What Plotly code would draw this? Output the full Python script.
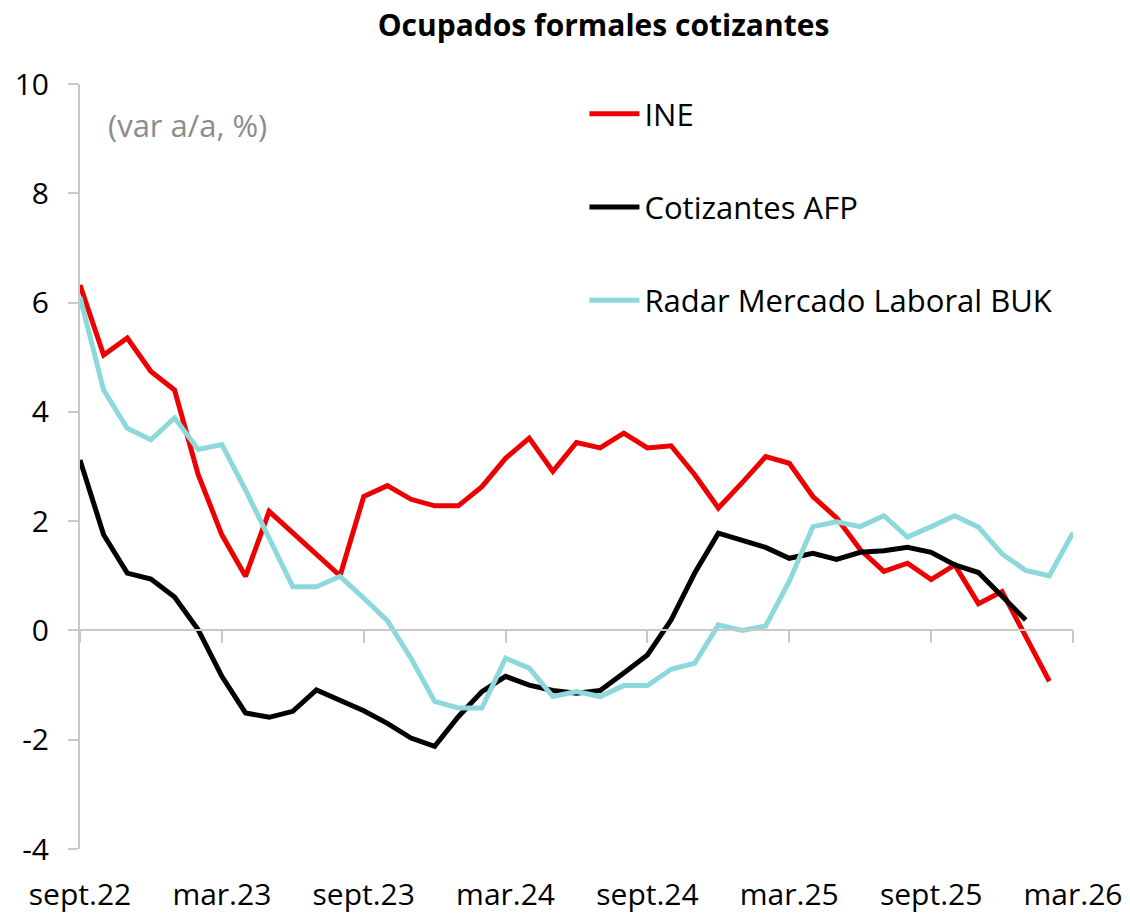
import plotly.graph_objects as go

# Monthly categories sept.22 .. mar.26
months = ["sept.22", "oct.22", "nov.22", "dic.22", "ene.23", "feb.23", "mar.23", "abr.23", "may.23", "jun.23",
          "jul.23", "ago.23", "sept.23", "oct.23", "nov.23", "dic.23", "ene.24", "feb.24", "mar.24", "abr.24",
          "may.24", "jun.24", "jul.24", "ago.24", "sept.24", "oct.24", "nov.24", "dic.24", "ene.25", "feb.25",
          "mar.25", "abr.25", "may.25", "jun.25", "jul.25", "ago.25", "sept.25", "oct.25", "nov.25", "dic.25",
          "ene.26", "feb.26", "mar.26"]

ine = [6.32, 5.04, 5.35, 4.74, 4.40, 2.85, 1.75, 0.99, 2.18, 1.78, 1.38, 1.00, 2.45, 2.65, 2.40, 2.28,
       2.28, 2.63, 3.15, 3.52, 2.91, 3.44, 3.34, 3.61, 3.34, 3.38, 2.85, 2.24, 2.70, 3.18, 3.06, 2.45,
       2.06, 1.48, 1.08, 1.23, 0.93, 1.20, 0.49, 0.71, -0.11, -0.93]

afp = [3.12, 1.75, 1.05, 0.94, 0.61, 0.01, -0.84, -1.51, -1.59, -1.48, -1.09, -1.28, -1.47, -1.70, -1.97,
       -2.12, -1.58, -1.12, -0.84, -1.00, -1.10, -1.15, -1.10, -0.78, -0.45, 0.19, 1.05, 1.78, 1.66, 1.52,
       1.32, 1.41, 1.30, 1.43, 1.46, 1.52, 1.43, 1.20, 1.06, 0.62, 0.19]

radar = [6.10, 4.40, 3.70, 3.49, 3.89, 3.31, 3.40, 2.57, 1.69, 0.80, 0.80, 0.99, 0.59, 0.18, -0.51, -1.30,
         -1.42, -1.42, -0.51, -0.69, -1.21, -1.12, -1.21, -1.01, -1.01, -0.71, -0.60, 0.10, 0.00, 0.08,
         0.90, 1.90, 1.99, 1.90, 2.10, 1.71, 1.90, 2.10, 1.89, 1.40, 1.10, 1.00, 1.79]

tick_labels = months[::6]
y_ticks = [-4, -2, 0, 2, 4, 6, 8, 10]
y_tick_text = [str(v) for v in y_ticks]

FONT = "Open Sans"
AXIS_GREY = "#C9C9C9"

fig = go.Figure()
fig.add_trace(go.Scatter(x=months[:len(ine)], y=ine, name="INE", mode="lines",
                         line=dict(color="#EC0000", width=5), legendgroup="a"))
fig.add_trace(go.Scatter(x=months[:len(afp)], y=afp, name="Cotizantes AFP", mode="lines",
                         line=dict(color="#000000", width=5), legendgroup="b"))
fig.add_trace(go.Scatter(x=months[:len(radar)], y=radar, name="Radar Mercado Laboral BUK", mode="lines",
                         line=dict(color="#8CD8DA", width=5), legendgroup="c"))
# invisible trace to carry the zero-line axis
fig.add_trace(go.Scatter(x=months, y=[None] * len(months), xaxis="x2", showlegend=False,
                         hoverinfo="skip", mode="lines"))

fig.update_layout(
    width=1130, height=915,
    margin=dict(l=72, r=65, t=76, b=74, autoexpand=False),
    paper_bgcolor="white", plot_bgcolor="white",
    font=dict(family=FONT, size=30, color="#000000"),
    title=dict(text="<b>Ocupados formales cotizantes</b>", x=0.527, xanchor="center",
               y=0.981, yanchor="middle", font=dict(family=FONT, size=30, color="#000000")),
    xaxis=dict(type="category", categoryorder="array", categoryarray=months,
               range=[0, len(months) - 1], tickmode="array", tickvals=tick_labels,
               ticktext=tick_labels, showline=False, ticks="", showgrid=False, zeroline=False,
               ticklabelstandoff=25, tickfont=dict(size=30), automargin=False),
    xaxis2=dict(type="category", categoryorder="array", categoryarray=months,
                range=[0, len(months) - 1], overlaying="x", anchor="free",
                position=4 / 14, side="bottom", tickmode="array", tickvals=tick_labels,
                showticklabels=False, showline=True, linecolor=AXIS_GREY, linewidth=2,
                ticks="outside", ticklen=12, tickwidth=2, tickcolor=AXIS_GREY, showgrid=False,
                zeroline=False, automargin=False),
    yaxis=dict(range=[-4, 10], tickmode="array", tickvals=y_ticks, ticktext=y_tick_text,
               showline=True, linecolor=AXIS_GREY, linewidth=2,
               ticks="outside", ticklen=10, tickwidth=2, tickcolor=AXIS_GREY, showgrid=False,
               zeroline=False, ticklabelstandoff=13, tickfont=dict(size=30), automargin=False),
    legend=dict(x=0.508, y=0.996, xanchor="left", yanchor="top", bgcolor="rgba(0,0,0,0)",
                tracegroupgap=50, font=dict(size=31), itemwidth=50),
    showlegend=True,
)

fig.add_annotation(text="(var a/a, %)", xref="paper", yref="paper", x=0.026, y=0.946,
                   xanchor="left", yanchor="middle", showarrow=False,
                   font=dict(family=FONT, size=31, color="#8C8C8C"))

fig.write_html("out.html")
